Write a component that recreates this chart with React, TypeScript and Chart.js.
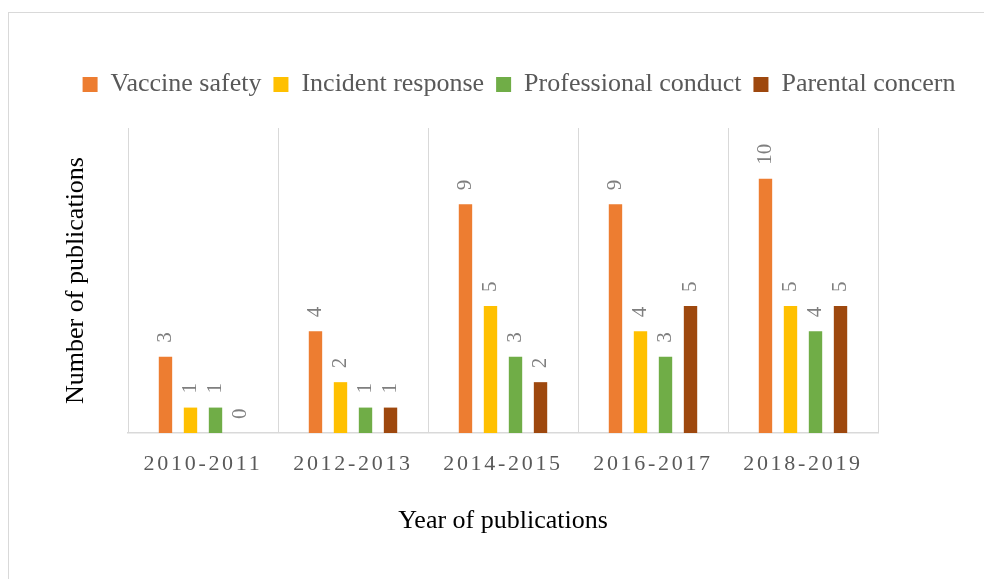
import React, { useEffect, useRef } from 'react';
import { Chart, registerables } from 'chart.js';

Chart.register(...registerables);

// ---- data ----
const categories = ['2010-2011', '2012-2013', '2014-2015', '2016-2017', '2018-2019'];
const seriesNames = ['Vaccine safety', 'Incident response', 'Professional conduct', 'Parental concern'];
const vaccineSafety = [3, 4, 9, 9, 10];
const incidentResponse = [1, 2, 5, 4, 5];
const professionalConduct = [1, 1, 3, 3, 4];
const parentalConcern = [0, 1, 2, 5, 5];
const seriesColors = ['#ED7D31', '#FFC000', '#70AD47', '#9E480E'];
const yAxisTitle = 'Number of publications';
const xAxisTitle = 'Year of publications';
const yMin = 0;
const yMax = 12;

const FONT = "'Liberation Serif', 'Times New Roman', serif";

const legendGap = {
  id: 'legendGap',
  beforeUpdate(chart: any) {
    const lg = chart.legend;
    if (lg && !lg._gapPatched) {
      const fit = lg.fit;
      lg.fit = function () {
        fit.call(this);
        this.height += 20.5;
      };
      lg._gapPatched = true;
    }
  },
};

const tickSpacing = {
  id: 'tickSpacing',
  beforeDraw(chart: any) {
    const xs = chart.scales.x;
    if (xs && !xs._lsPatched) {
      const orig = xs.drawLabels;
      xs.drawLabels = function (area: any) {
        const ctx = this.ctx;
        ctx.save();
        ctx.letterSpacing = '2.7px';
        orig.call(this, area);
        ctx.restore();
      };
      xs._lsPatched = true;
    }
  },
};

const barLabels = {
  id: 'barLabels',
  afterDatasetsDraw(chart: any) {
    const ctx = chart.ctx;
    ctx.save();
    ctx.font = `21px ${FONT}`;
    ctx.fillStyle = '#7f7f7f';
    ctx.textAlign = 'left';
    ctx.textBaseline = 'middle';
    chart.data.datasets.forEach((ds: any, di: number) => {
      const meta = chart.getDatasetMeta(di);
      meta.data.forEach((el: any, i: number) => {
        ctx.save();
        ctx.translate(el.x, el.y - 14);
        ctx.rotate(-Math.PI / 2);
        ctx.fillText(String(ds.data[i]), 0, 0);
        ctx.restore();
      });
    });
    ctx.restore();
  },
};

export default function App() {
  const ref = useRef<HTMLCanvasElement>(null);

  useEffect(() => {
    if (!ref.current) return;
    Chart.defaults.font.family = FONT;
    const values = [vaccineSafety, incidentResponse, professionalConduct, parentalConcern];
    const chart = new Chart(ref.current, {
      type: 'bar',
      data: {
        labels: categories,
        datasets: seriesNames.map((name, i) => ({
          label: name,
          data: values[i],
          backgroundColor: seriesColors[i],
          borderWidth: 0,
          categoryPercentage: 0.667,
          barPercentage: 0.535,
        })),
      },
      options: {
        responsive: false,
        animation: false,
        layout: { padding: { left: 45, right: 0, top: 46.5, bottom: 42.4 } },
        plugins: {
          legend: {
            position: 'top',
            align: 'center',
            labels: {
              boxWidth: 15,
              boxHeight: 15,
              padding: 12,
              color: '#595959',
              font: { size: 26, family: FONT },
            },
          },
          tooltip: { enabled: false },
        },
        scales: {
          x: {
            offset: true,
            grid: { display: true, offset: true, color: '#d9d9d9', lineWidth: 1, drawTicks: false },
            border: { display: true, color: '#d9d9d9', width: 1.5 },
            ticks: { color: '#595959', font: { size: 22, family: FONT }, padding: 18, maxRotation: 0 },
            title: {
              display: true,
              text: xAxisTitle,
              color: '#000000',
              font: { size: 26, family: FONT },
              padding: { top: 10, bottom: 0 },
            },
            afterFit: (s: any) => {
              s.paddingRight = 106;
            },
          },
          y: {
            min: yMin,
            max: yMax,
            grid: { display: false, drawTicks: false },
            border: { display: false },
            ticks: { display: false },
            title: {
              display: true,
              text: yAxisTitle,
              color: '#000000',
              font: { size: 26, family: FONT },
              padding: { top: 6.4, bottom: 36.4 },
            },
          },
        },
      } as any,
      plugins: [legendGap, tickSpacing, barLabels],
    });
    return () => chart.destroy();
  }, []);

  return (
    <div
      style={{
        position: 'fixed',
        left: 8,
        top: 12,
        width: 976,
        height: 567,
        boxSizing: 'border-box',
        borderLeft: '1px solid #d9d9d9',
        borderTop: '1px solid #d9d9d9',
        background: '#ffffff',
        overflow: 'hidden',
      }}
    >
      <canvas ref={ref} width={975} height={566} style={{ display: 'block', width: 975, height: 566 }} />
    </div>
  );
}
